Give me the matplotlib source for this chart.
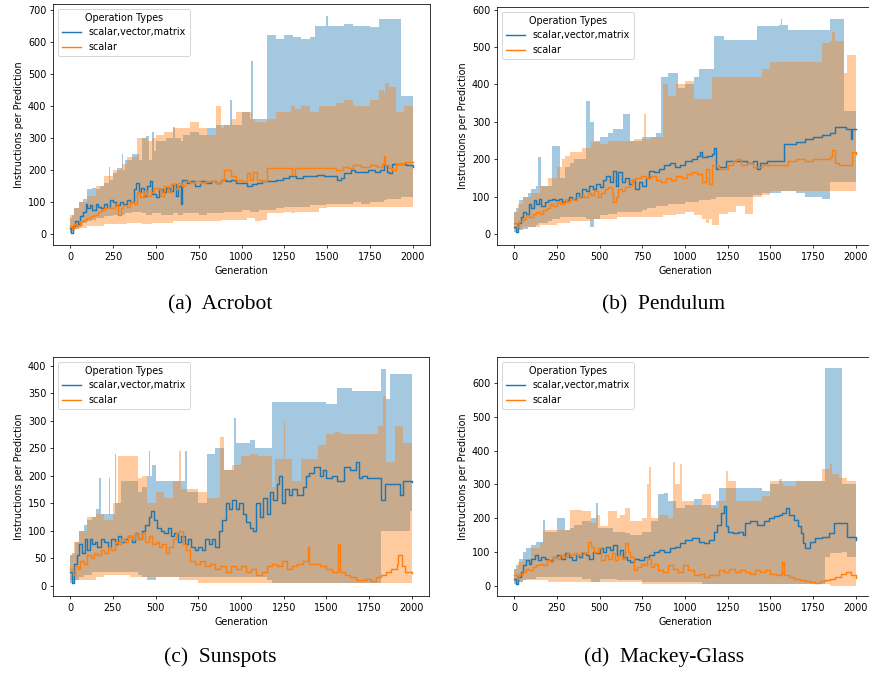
import matplotlib
matplotlib.use("Agg")
import matplotlib.pyplot as plt
from matplotlib.ticker import MultipleLocator

# ============ data ============
# every series: a mean line (gen, mean) and a band (band_gen, lo, hi)

# (a) Acrobot
acro_svm_gen = [0, 5, 15, 30, 45, 60, 75, 90, 100, 115, 130, 150, 165, 180, 200, 215, 235, 250, 270, 290,
                310, 330, 350, 370, 385, 400, 415, 430, 450, 465, 480, 500, 520, 540, 560, 580, 600, 615, 630, 645,
                655, 680, 700, 730, 760, 790, 820, 850, 880, 910, 940, 970, 1000, 1030, 1060, 1090, 1120, 1160, 1200, 1240,
                1280, 1320, 1360, 1400, 1440, 1480, 1520, 1560, 1580, 1600, 1640, 1660, 1700, 1740, 1780, 1810, 1830, 1850, 1860, 1880,
                1920, 1960, 2000]
acro_svm_mean = [20, 5, 25, 40, 30, 55, 70, 95, 80, 90, 75, 95, 85, 80, 95, 85, 105, 100, 90, 100,
                 95, 105, 100, 140, 160, 130, 145, 120, 150, 165, 125, 115, 140, 130, 145, 135, 155, 120, 150, 95,
                 170, 160, 165, 150, 165, 160, 165, 160, 170, 165, 170, 160, 160, 150, 155, 160, 165, 165, 170, 175,
                 180, 175, 180, 180, 185, 180, 180, 170, 175, 190, 200, 195, 195, 200, 195, 200, 215, 195, 190, 220,
                 220, 215, 210]
acro_svm_band_gen = [0, 10, 25, 50, 75, 100, 125, 150, 175, 200, 225, 235, 250, 275, 300, 310, 320, 340, 360, 380,
                     400, 420, 440, 460, 480, 490, 500, 530, 560, 600, 610, 630, 645, 660, 700, 750, 800, 850, 900, 935,
                     945, 1000, 1050, 1058, 1065, 1100, 1150, 1200, 1250, 1300, 1350, 1400, 1430, 1495, 1505, 1560, 1600, 1650, 1700, 1750,
                     1800, 1830, 1850, 1880, 1930, 2000]
acro_svm_lo = [5, 10, 15, 25, 35, 40, 45, 50, 50, 55, 55, 55, 60, 60, 60, 60, 65, 65, 70, 70,
               70, 65, 60, 60, 65, 65, 65, 60, 60, 65, 65, 60, 60, 65, 65, 60, 65, 65, 70, 70,
               70, 75, 70, 70, 70, 75, 75, 80, 85, 85, 85, 90, 90, 95, 95, 95, 95, 100, 95, 100,
               100, 105, 110, 110, 115, 110]
acro_svm_hi = [50, 60, 80, 100, 110, 140, 145, 140, 150, 160, 210, 170, 190, 205, 250, 200, 230, 230, 250, 250,
               230, 300, 305, 230, 320, 260, 290, 290, 300, 335, 300, 300, 290, 310, 320, 310, 330, 340, 340, 420,
               340, 380, 360, 540, 360, 360, 620, 610, 620, 615, 610, 615, 650, 680, 650, 650, 655, 650, 650, 645,
               670, 670, 670, 670, 430, 430]

acro_sca_gen = [0, 10, 25, 40, 60, 80, 100, 120, 140, 160, 180, 200, 220, 240, 260, 280, 295, 310, 330, 350,
                370, 390, 410, 430, 450, 470, 490, 510, 530, 550, 570, 590, 610, 630, 650, 670, 700, 730, 760, 790,
                820, 850, 880, 900, 940, 970, 1000, 1030, 1050, 1070, 1090, 1120, 1150, 1200, 1280, 1295, 1310, 1400, 1500, 1550,
                1590, 1620, 1650, 1700, 1750, 1790, 1820, 1830, 1840, 1860, 1880, 1900, 1950, 2000]
acro_sca_mean = [25, 15, 30, 25, 40, 45, 50, 55, 60, 70, 75, 80, 85, 80, 95, 60, 80, 90, 85, 100,
                 95, 130, 115, 135, 120, 130, 145, 140, 120, 150, 130, 155, 140, 160, 150, 165, 160, 165, 160, 165,
                 165, 160, 170, 200, 180, 170, 165, 190, 170, 195, 170, 165, 205, 205, 205, 185, 205, 205, 205, 200,
                 210, 205, 215, 210, 215, 210, 220, 245, 215, 205, 200, 220, 225, 225]
acro_sca_band_gen = [0, 20, 50, 100, 150, 200, 250, 280, 300, 330, 360, 390, 420, 450, 480, 500, 550, 600, 650, 700,
                     750, 800, 850, 880, 900, 940, 970, 1030, 1060, 1080, 1120, 1150, 1200, 1250, 1290, 1310, 1350, 1400, 1450, 1500,
                     1550, 1600, 1650, 1700, 1750, 1800, 1830, 1840, 1860, 1880, 1900, 1950, 2000]
acro_sca_lo = [10, 15, 20, 25, 25, 30, 30, 30, 30, 35, 35, 35, 30, 30, 35, 35, 35, 40, 40, 40,
               40, 40, 40, 45, 45, 45, 45, 50, 50, 40, 45, 65, 65, 70, 65, 70, 70, 70, 80, 85,
               85, 85, 85, 85, 85, 85, 85, 85, 85, 85, 85, 85, 85]
acro_sca_hi = [60, 80, 100, 120, 150, 180, 200, 200, 220, 240, 240, 300, 300, 290, 300, 310, 320, 330, 330, 350,
               330, 310, 400, 330, 340, 360, 380, 380, 360, 350, 350, 360, 380, 380, 400, 390, 400, 380, 400, 400,
               410, 420, 400, 400, 420, 450, 440, 470, 460, 460, 380, 400, 430]

# (b) Pendulum
pend_svm_gen = [0, 10, 25, 40, 55, 70, 85, 100, 115, 130, 145, 160, 180, 200, 220, 240, 260, 280, 300, 320,
                340, 360, 380, 400, 420, 440, 460, 480, 500, 520, 540, 560, 580, 595, 610, 630, 650, 670, 690, 710,
                730, 750, 770, 790, 820, 850, 880, 910, 940, 970, 1000, 1040, 1070, 1085, 1100, 1130, 1160, 1170, 1180, 1200,
                1240, 1280, 1320, 1360, 1400, 1420, 1440, 1480, 1520, 1560, 1580, 1610, 1650, 1700, 1750, 1800, 1850, 1880, 1940, 1970,
                1980, 2000]
pend_svm_mean = [20, 5, 30, 45, 60, 55, 80, 70, 90, 80, 95, 75, 85, 90, 95, 90, 95, 85, 90, 100,
                 95, 110, 100, 120, 115, 130, 120, 135, 125, 145, 155, 140, 170, 130, 165, 140, 150, 135, 145, 120,
                 140, 130, 150, 170, 165, 175, 185, 190, 180, 185, 195, 200, 210, 220, 205, 210, 215, 230, 175, 180,
                 195, 195, 195, 190, 195, 175, 190, 195, 195, 195, 240, 240, 245, 255, 260, 265, 270, 285, 280, 255,
                 280, 280]
pend_svm_band_gen = [0, 10, 30, 50, 80, 100, 130, 140, 160, 200, 220, 250, 270, 300, 330, 350, 400, 420, 445, 470,
                     500, 550, 580, 600, 640, 680, 700, 750, 780, 800, 830, 860, 900, 960, 1000, 1050, 1080, 1100, 1150, 1170,
                     1180, 1230, 1300, 1400, 1420, 1450, 1500, 1550, 1560, 1570, 1600, 1650, 1700, 1750, 1800, 1850, 1880, 1930, 1970, 1980,
                     2000]
pend_svm_lo = [5, 5, 10, 15, 20, 20, 25, 30, 30, 35, 40, 40, 45, 45, 45, 45, 45, 40, 20, 40,
               50, 55, 55, 60, 60, 60, 60, 65, 70, 70, 75, 75, 80, 80, 85, 85, 90, 90, 95, 95,
               100, 100, 100, 105, 105, 110, 110, 110, 115, 115, 115, 110, 100, 100, 95, 140, 140, 140, 140, 140,
               140]
pend_svm_hi = [60, 70, 90, 100, 110, 120, 130, 205, 130, 130, 235, 235, 150, 180, 190, 200, 200, 355, 300, 250,
               260, 270, 280, 280, 320, 250, 250, 260, 260, 260, 270, 420, 430, 390, 400, 420, 440, 440, 440, 530,
               530, 520, 520, 520, 555, 555, 555, 560, 575, 560, 545, 545, 545, 545, 545, 575, 575, 330, 330, 330,
               330]

pend_sca_gen = [0, 15, 30, 50, 70, 90, 110, 130, 150, 170, 190, 210, 230, 250, 270, 290, 310, 330, 350, 370,
                390, 410, 430, 450, 470, 490, 510, 530, 550, 570, 580, 595, 610, 630, 650, 670, 690, 710, 740, 770,
                800, 830, 860, 890, 920, 950, 980, 1010, 1040, 1070, 1100, 1120, 1140, 1160, 1200, 1250, 1280, 1300, 1330, 1360,
                1400, 1450, 1500, 1550, 1600, 1650, 1700, 1750, 1800, 1850, 1860, 1880, 1900, 1980, 2000]
pend_sca_mean = [30, 20, 35, 40, 50, 45, 55, 60, 55, 65, 70, 80, 75, 85, 80, 90, 85, 95, 90, 100,
                 105, 100, 110, 105, 115, 100, 110, 120, 125, 110, 85, 100, 120, 115, 125, 130, 145, 150, 155, 150,
                 155, 145, 140, 150, 145, 155, 150, 160, 165, 160, 140, 175, 135, 185, 175, 185, 195, 200, 185, 190,
                 180, 185, 185, 185, 195, 200, 195, 200, 200, 205, 225, 190, 185, 220, 215]
pend_sca_band_gen = [0, 20, 50, 100, 150, 200, 250, 280, 300, 330, 350, 400, 450, 500, 550, 580, 600, 650, 680, 700,
                     750, 760, 770, 800, 850, 870, 900, 950, 1000, 1050, 1100, 1120, 1140, 1160, 1200, 1250, 1300, 1350, 1400, 1450,
                     1500, 1550, 1600, 1650, 1700, 1750, 1800, 1850, 1860, 1880, 1900, 1930, 1950, 1980, 2000]
pend_sca_lo = [15, 15, 20, 20, 25, 25, 30, 30, 30, 35, 35, 35, 40, 40, 40, 40, 45, 45, 45, 45,
               45, 45, 45, 45, 45, 50, 50, 55, 60, 50, 40, 30, 40, 25, 55, 60, 75, 55, 100, 105,
               115, 115, 115, 115, 115, 115, 115, 115, 115, 115, 115, 115, 115, 115, 115]
pend_sca_hi = [60, 80, 100, 110, 130, 150, 180, 200, 210, 220, 220, 230, 245, 240, 250, 250, 250, 250, 250, 255,
               255, 320, 255, 260, 260, 400, 370, 400, 410, 360, 360, 360, 360, 420, 420, 420, 420, 420, 420, 440,
               460, 460, 460, 460, 460, 460, 510, 515, 540, 515, 515, 430, 480, 480, 515]

# (c) Sunspots
sun_svm_gen = [0, 10, 25, 40, 55, 70, 85, 100, 115, 130, 145, 160, 180, 200, 220, 240, 260, 280, 300, 320,
               340, 360, 380, 400, 420, 440, 460, 475, 490, 510, 530, 550, 570, 590, 610, 630, 650, 670, 690, 710,
               730, 750, 770, 790, 810, 830, 850, 870, 890, 910, 930, 950, 970, 990, 1010, 1030, 1050, 1070, 1090, 1110,
               1130, 1150, 1170, 1190, 1210, 1220, 1240, 1260, 1280, 1300, 1330, 1360, 1380, 1400, 1430, 1460, 1480, 1500, 1530, 1560,
               1600, 1640, 1670, 1690, 1710, 1740, 1770, 1800, 1820, 1840, 1880, 1920, 1930, 1950, 2000]
sun_svm_mean = [25, 5, 40, 55, 75, 60, 85, 65, 85, 75, 80, 70, 85, 80, 70, 85, 75, 90, 80, 85,
                90, 80, 95, 85, 100, 110, 125, 135, 120, 105, 100, 95, 105, 90, 95, 80, 90, 75, 85, 70,
                65, 70, 65, 85, 75, 85, 70, 100, 120, 150, 140, 155, 140, 150, 130, 115, 105, 100, 150, 125,
                160, 130, 170, 155, 185, 200, 150, 175, 165, 175, 165, 180, 200, 205, 215, 200, 210, 195, 200, 190,
                215, 210, 225, 195, 200, 195, 195, 195, 155, 185, 185, 185, 165, 190, 188]
sun_svm_band_gen = [0, 10, 30, 50, 80, 100, 130, 150, 170, 180, 200, 225, 235, 260, 270, 300, 350, 400, 420, 450,
                    460, 470, 480, 500, 550, 600, 650, 675, 685, 700, 750, 800, 850, 870, 900, 930, 960, 970, 1000, 1050,
                    1080, 1100, 1150, 1180, 1200, 1220, 1250, 1300, 1350, 1380, 1400, 1450, 1500, 1560, 1600, 1650, 1680, 1700, 1750, 1800,
                    1820, 1850, 1870, 1900, 1950, 1990, 2000]
sun_svm_lo = [5, 5, 10, 15, 20, 20, 25, 25, 25, 25, 25, 25, 25, 25, 25, 25, 25, 20, 15, 10,
              10, 10, 10, 15, 15, 15, 15, 15, 15, 15, 15, 15, 15, 15, 15, 15, 15, 15, 15, 15,
              15, 15, 10, 5, 5, 5, 5, 5, 5, 5, 5, 5, 5, 5, 5, 5, 5, 5, 5, 5,
              100, 100, 100, 100, 100, 135, 135]
sun_svm_hi = [55, 60, 80, 100, 110, 120, 125, 140, 195, 130, 130, 195, 130, 240, 150, 190, 190, 170, 180, 200,
              245, 200, 220, 190, 190, 190, 190, 245, 170, 170, 150, 240, 250, 250, 210, 210, 305, 260, 260, 265,
              250, 250, 250, 335, 335, 335, 335, 335, 335, 335, 335, 335, 330, 360, 360, 355, 355, 355, 355, 355,
              395, 340, 385, 385, 385, 385, 250]

sun_sca_gen = [0, 15, 30, 45, 60, 80, 100, 120, 140, 160, 180, 200, 220, 240, 260, 280, 300, 320, 340, 360,
               380, 400, 420, 440, 460, 480, 500, 520, 540, 560, 580, 600, 620, 640, 660, 680, 700, 730, 760, 790,
               820, 850, 880, 910, 940, 970, 1000, 1030, 1060, 1090, 1120, 1150, 1180, 1210, 1240, 1270, 1300, 1330, 1360, 1390,
               1400, 1430, 1460, 1500, 1530, 1560, 1570, 1580, 1610, 1640, 1670, 1700, 1730, 1760, 1790, 1820, 1850, 1880, 1910, 1920,
               1940, 1960, 2000]
sun_sca_mean = [30, 20, 35, 30, 45, 40, 55, 50, 60, 55, 65, 60, 70, 65, 80, 75, 85, 80, 90, 85,
                95, 85, 95, 80, 90, 75, 80, 70, 75, 60, 70, 85, 95, 100, 75, 65, 45, 40, 45, 35,
                40, 30, 35, 25, 35, 30, 35, 25, 30, 20, 25, 35, 40, 35, 45, 30, 35, 40, 45, 70,
                40, 40, 35, 30, 25, 25, 75, 25, 20, 15, 10, 10, 12, 8, 15, 20, 25, 30, 40, 55,
                35, 25, 22]
sun_sca_band_gen = [0, 20, 50, 100, 150, 200, 250, 280, 300, 350, 400, 420, 450, 500, 550, 600, 640, 650, 680, 700,
                    750, 800, 850, 880, 900, 950, 1000, 1050, 1100, 1150, 1180, 1200, 1250, 1260, 1300, 1350, 1390, 1400, 1450, 1500,
                    1550, 1570, 1580, 1600, 1650, 1700, 1750, 1800, 1830, 1850, 1900, 1920, 1950, 2000]
sun_sca_lo = [10, 10, 10, 10, 15, 20, 20, 20, 20, 15, 15, 15, 15, 15, 15, 15, 10, 10, 10, 10,
              5, 5, 5, 5, 5, 5, 5, 5, 5, 5, 5, 5, 5, 5, 5, 5, 5, 5, 5, 5,
              5, 5, 5, 5, 5, 5, 5, 5, 5, 5, 5, 5, 5, 5]
sun_sca_hi = [55, 80, 100, 125, 130, 120, 150, 235, 235, 235, 195, 200, 150, 170, 160, 190, 245, 175, 175, 175,
              170, 160, 160, 270, 210, 220, 235, 240, 235, 235, 180, 230, 300, 230, 190, 230, 230, 230, 255, 275,
              280, 280, 275, 275, 275, 275, 275, 290, 345, 225, 290, 290, 260, 250]

# (d) Mackey-Glass
mg_svm_gen = [0, 10, 25, 40, 55, 70, 85, 100, 120, 140, 160, 180, 200, 225, 250, 275, 300, 320, 340, 360,
              380, 400, 420, 440, 460, 480, 500, 520, 540, 560, 580, 600, 620, 640, 660, 680, 700, 730, 760, 790,
              820, 850, 880, 910, 940, 970, 1000, 1040, 1080, 1110, 1140, 1170, 1190, 1210, 1230, 1240, 1250, 1280, 1310, 1340,
              1350, 1380, 1420, 1460, 1490, 1520, 1550, 1570, 1590, 1610, 1640, 1660, 1680, 1690, 1700, 1730, 1760, 1800, 1840, 1870,
              1920, 1950, 2000]
mg_svm_mean = [20, 5, 25, 40, 60, 75, 65, 80, 90, 75, 85, 80, 75, 85, 90, 80, 95, 85, 75, 90,
               85, 95, 90, 80, 100, 95, 110, 100, 115, 105, 120, 90, 105, 85, 75, 70, 80, 75, 85, 90,
               100, 105, 100, 110, 115, 125, 135, 140, 130, 125, 135, 160, 180, 215, 235, 175, 160, 155, 160, 150,
               185, 190, 180, 190, 200, 205, 210, 215, 230, 210, 195, 175, 155, 125, 110, 130, 140, 145, 155, 185,
               185, 145, 135]
mg_svm_band_gen = [0, 10, 30, 50, 70, 100, 130, 170, 180, 200, 250, 300, 330, 350, 400, 450, 480, 490, 500, 550,
                   580, 600, 650, 680, 700, 750, 800, 840, 880, 900, 950, 1000, 1050, 1100, 1150, 1180, 1200, 1230, 1240, 1250,
                   1300, 1340, 1350, 1400, 1450, 1500, 1550, 1580, 1600, 1640, 1680, 1690, 1700, 1750, 1800, 1820, 1850, 1900, 1920, 1950,
                   2000]
mg_svm_lo = [5, 5, 10, 15, 20, 20, 25, 25, 25, 25, 25, 25, 25, 25, 20, 10, 10, 10, 20, 20,
             20, 15, 15, 15, 15, 10, 10, 10, 10, 10, 10, 10, 10, 5, 5, 5, 5, 5, 5, 5,
             5, 5, 5, 5, 5, 5, 5, 5, 5, 5, 5, 5, 5, 5, 5, 85, 95, 95, 100, 85,
             85]
mg_svm_hi = [50, 60, 80, 100, 110, 120, 130, 195, 160, 160, 200, 165, 170, 180, 190, 200, 245, 170, 170, 170,
             160, 160, 155, 150, 150, 160, 190, 270, 275, 250, 230, 240, 255, 240, 240, 250, 290, 290, 290, 290,
             290, 290, 290, 290, 280, 300, 310, 310, 310, 310, 310, 310, 310, 310, 310, 645, 645, 645, 300, 300,
             300]

mg_sca_gen = [0, 15, 30, 50, 70, 90, 110, 130, 150, 170, 190, 210, 230, 250, 270, 290, 310, 330, 350, 370,
              390, 410, 430, 450, 470, 490, 510, 530, 550, 570, 590, 610, 630, 650, 665, 680, 700, 720, 740, 760,
              780, 800, 820, 840, 870, 900, 930, 960, 990, 1020, 1050, 1080, 1110, 1140, 1170, 1200, 1230, 1260, 1290, 1320,
              1350, 1380, 1410, 1440, 1470, 1500, 1530, 1560, 1570, 1580, 1610, 1640, 1670, 1700, 1730, 1760, 1790, 1820, 1850, 1880,
              1910, 1940, 1970, 2000]
mg_sca_mean = [30, 20, 35, 40, 50, 45, 55, 60, 65, 60, 75, 70, 85, 80, 90, 85, 95, 90, 95, 90,
               100, 95, 130, 115, 100, 110, 75, 90, 80, 95, 75, 90, 80, 125, 100, 85, 45, 55, 65, 60,
               80, 55, 65, 45, 40, 60, 50, 40, 60, 45, 30, 35, 25, 30, 30, 45, 40, 50, 40, 45,
               40, 35, 45, 40, 45, 35, 30, 35, 70, 30, 25, 20, 15, 12, 10, 8, 12, 15, 20, 25,
               35, 40, 30, 22]
mg_sca_band_gen = [0, 20, 50, 100, 150, 170, 200, 250, 300, 330, 400, 430, 450, 480, 500, 550, 600, 620, 650, 680,
                   700, 750, 780, 790, 800, 850, 900, 930, 940, 970, 980, 1000, 1050, 1100, 1150, 1200, 1240, 1250, 1270, 1300,
                   1350, 1400, 1450, 1500, 1550, 1570, 1580, 1600, 1650, 1700, 1750, 1800, 1850, 1860, 1900, 1950, 2000]
mg_sca_lo = [10, 10, 15, 15, 15, 15, 10, 10, 10, 10, 10, 10, 10, 10, 10, 10, 10, 10, 10, 10,
             10, 5, 5, 5, 5, 5, 5, 5, 5, 5, 5, 5, 5, 5, 5, 5, 5, 5, 5, 5,
             5, 5, 5, 5, 5, 5, 5, 5, 5, 5, 5, 5, 0, 0, 0, 0, 0]
mg_sca_hi = [50, 70, 80, 110, 125, 165, 165, 165, 165, 225, 220, 220, 185, 210, 175, 220, 200, 210, 230, 190,
             190, 200, 300, 350, 200, 210, 200, 365, 300, 360, 250, 250, 240, 270, 230, 250, 340, 310, 310, 250,
             250, 250, 265, 310, 315, 300, 295, 295, 310, 310, 310, 345, 360, 330, 320, 310, 210]

captions = ["(a)  Acrobot", "(b)  Pendulum", "(c)  Sunspots", "(d)  Mackey-Glass"]
series_labels = ["scalar,vector,matrix", "scalar"]

# ============ style ============
s = 0.69  # original charts were shrunk when placed in the figure
plt.rcParams.update({
    "font.size": 10 * s,
    "axes.linewidth": 0.8 * s,
    "lines.linewidth": 1.5 * s,
    "patch.linewidth": 1.0 * s,
    "xtick.major.size": 3.5 * s,
    "ytick.major.size": 3.5 * s,
    "xtick.major.width": 0.8 * s,
    "ytick.major.width": 0.8 * s,
    "xtick.major.pad": 3.5 * s,
    "ytick.major.pad": 3.5 * s,
    "axes.labelpad": 4.0 * s,
})

W, H = 869, 673
fig = plt.figure(figsize=(W / 100, H / 100), dpi=100)


def px_rect(left, top, right, bottom):
    return [left / W, 1 - bottom / H, (right - left) / W, (bottom - top) / H]


def panel(rect, ylim, ystep, svm, sca):
    ax = fig.add_axes(rect)
    for (gen, mean, band_gen, lo, hi), color, label in zip([svm, sca], ["#1f77b4", "#ff7f0e"], series_labels):
        ax.plot(gen, mean, drawstyle="steps-post", color=color, label=label)
        ax.fill_between(band_gen, lo, hi, step="post", color=color, alpha=0.4, linewidth=0)
    ax.set_xlim(-100, 2100)
    ax.set_ylim(*ylim)
    ax.xaxis.set_major_locator(MultipleLocator(250))
    ax.yaxis.set_major_locator(MultipleLocator(ystep))
    ax.set_xlabel("Generation")
    ax.set_ylabel("Instructions per Prediction")
    ax.legend(title="Operation Types", loc="upper left")
    return ax


panel(px_rect(53, 4, 430, 245), (-34, 718), 100,
      (acro_svm_gen, acro_svm_mean, acro_svm_band_gen, acro_svm_lo, acro_svm_hi),
      (acro_sca_gen, acro_sca_mean, acro_sca_band_gen, acro_sca_lo, acro_sca_hi))
panel(px_rect(497, 7, 873, 245), (-29, 607), 100,
      (pend_svm_gen, pend_svm_mean, pend_svm_band_gen, pend_svm_lo, pend_svm_hi),
      (pend_sca_gen, pend_sca_mean, pend_sca_band_gen, pend_sca_lo, pend_sca_hi))
panel(px_rect(53, 357, 429, 596), (-19, 416), 50,
      (sun_svm_gen, sun_svm_mean, sun_svm_band_gen, sun_svm_lo, sun_svm_hi),
      (sun_sca_gen, sun_sca_mean, sun_sca_band_gen, sun_sca_lo, sun_sca_hi))
panel(px_rect(497, 357, 873, 596), (-31, 677), 100,
      (mg_svm_gen, mg_svm_mean, mg_svm_band_gen, mg_svm_lo, mg_svm_hi),
      (mg_sca_gen, mg_sca_mean, mg_sca_band_gen, mg_sca_lo, mg_sca_hi))

# subfigure captions
for text, (cx, cy) in zip(captions, [(220, 305), (664, 305), (220, 657), (664, 657)]):
    fig.text(cx / W, 1 - cy / H, text, family="Liberation Serif", fontsize=15.5,
             ha="center", va="center")

fig.savefig("out.png", dpi=100)
